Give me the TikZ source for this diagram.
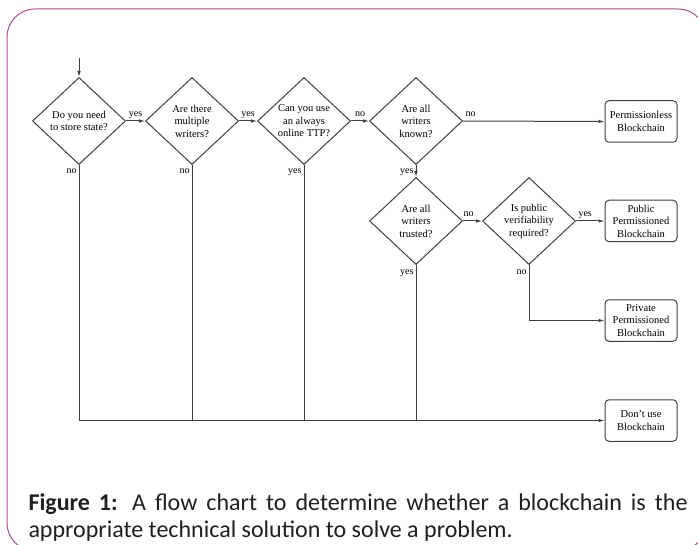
\documentclass[tikz,border=0pt]{standalone}
\usepackage{fontspec}
\setmainfont{Liberation Serif}
\newfontfamily\capfont{Carlito}
\usetikzlibrary{shapes.geometric}
\usetikzlibrary{arrows.meta}

\definecolor{framecol}{RGB}{178,74,142}
\definecolor{linecol}{RGB}{64,64,64}

\begin{document}
\begin{tikzpicture}[
        x=1pt, y=-1pt,
        >={Latex[length=6pt,width=3.6pt]},
        line width=1pt,
        decision/.style={draw=linecol, shape=diamond, aspect=1.069,
                         inner sep=0pt, minimum width=93pt, minimum height=87pt,
                         align=center, font=\fontsize{10.5}{12.5}\selectfont},
        outcome/.style={draw=linecol, rounded corners=4pt, inner sep=0pt,
                        minimum width=72pt, minimum height=41.5pt,
                        align=center, font=\fontsize{10.5}{12.5}\selectfont},
        lbl/.style={font=\fontsize{10}{12}\selectfont, inner sep=2pt,
                    text height=6.5pt, text depth=2pt},
        flow/.style={draw=linecol, ->},
        wire/.style={draw=linecol},
    ]
    \useasboundingbox (0,0) rectangle (698,545);
    \clip (0,0) rectangle (698,545);

    \draw[framecol, line width=1pt, rounded corners=28pt] (7,9) rectangle (706,551);

    \coordinate (start) at (79,58);

    \node[decision] (store)   at (79,121)  {Do you need\\to store state?};
    \node[decision] (multi)   at (192,121) {Are there\\multiple\\writers?};
    \node[decision] (ttp)     at (304,121) {Can you use\\an always\\online TTP?};
    \node[decision] (known)   at (416,121) {Are all\\writers\\known?};
    \node[decision] (trusted) at (416,221) {Are all\\writers\\trusted?};
    \node[decision] (verify)  at (529,221) {Is public\\verifiability\\required?};

    \node[outcome] (permless) at (641,121.5) {Permissionless\\Blockchain};
    \node[outcome] (public)   at (641,221)   {Public\\Permissioned\\Blockchain};
    \node[outcome] (private)  at (641,320.5) {Private\\Permissioned\\Blockchain};
    \node[outcome] (nouse)    at (641,420.5) {Don't use\\Blockchain};

    \draw[flow] (start) -- (store.north);

    \draw[flow] (store.east) -- node[lbl, above] {yes} (multi.west);
    \draw[flow] (multi.east) -- node[lbl, above] {yes} (ttp.west);
    \draw[flow] (ttp.east) -- node[lbl, above] {no} (known.west);
    \draw[flow] (known.east) -- node[lbl, above right, pos=0] {no} (permless.west);
    \draw[flow] (known.south) -- node[lbl, left] {yes} (trusted.north);
    \draw[flow] (trusted.east) -- node[lbl, above, pos=0.3] {no} (verify.west);
    \draw[flow] (verify.east) -- node[lbl, above right, pos=0] {yes} (public.west);
    \draw[flow] (verify.south) |- node[lbl, below left, pos=0] {no} (private.west);

    \draw[flow] (store.south) |- node[lbl, below left, pos=0] {no} (nouse.west);
    \draw[wire] (multi.south) -- node[lbl, below left, pos=0] {no} (multi.south |- nouse.west);
    \draw[wire] (ttp.south) -- node[lbl, below left, pos=0] {yes} (ttp.south |- nouse.west);
    \draw[wire] (trusted.south) -- node[lbl, below left, pos=0] {yes} (trusted.south |- nouse.west);

    \node[anchor=base west, text width=659pt, align=justify, inner sep=0pt,
          text=black!88, font=\capfont\fontsize{24}{27}\selectfont] (caption) at (28,510)
        {\textbf{Figure 1:} A flow chart to determine whether a blockchain is the\linebreak
         appropriate technical solution to solve a problem.};
\end{tikzpicture}
\end{document}
